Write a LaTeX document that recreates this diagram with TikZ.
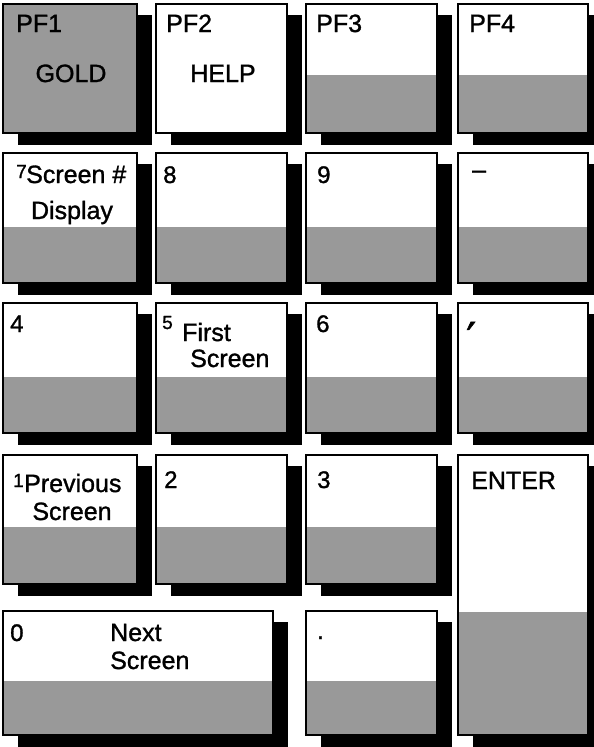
\documentclass[tikz,border=0pt]{standalone}
\usepackage{fontspec}
\setmainfont{Liberation Sans}[FakeBold=1.2]
\newfontfamily\symfont{DejaVu Sans}[FakeBold=1.2]
\newcommand\kbkey[5]{%
  \fill[keyshadow] (#1+15,#2+11) rectangle (#3+15,#4+12);
  \fill[keyface] (#1,#2) rectangle (#3,#4);
  \fill[keylow] (#1,#5) rectangle (#3,#4);
  \draw[keyrim] (#1,#2) rectangle (#3,#4);}
\begin{document}
\begin{tikzpicture}[x=1pt,y=-1pt,
  lbl/.style={inner sep=0pt,anchor=base west,font=\fontsize{25}{28}\selectfont},
  dig/.style={inner sep=0pt,anchor=base west,font=\fontsize{24}{26}\selectfont},
  sml/.style={inner sep=0pt,anchor=base west,font=\fontsize{19}{21}\selectfont},
  ctr/.style={inner sep=0pt,anchor=base,font=\fontsize{25}{28}\selectfont},
  keyshadow/.style={fill=black},
  keyface/.style={fill=white},
  keylow/.style={fill=black!40},
  keyrim/.style={draw=black,line width=2pt}]
\useasboundingbox (0,0) rectangle (594,747);
\fill[white] (0,0) rectangle (594,747);
\clip (0,0) rectangle (594,747);
% row 1
\kbkey{3}{4}{137}{133}{4}
\kbkey{156}{4}{287}{133}{133}
\kbkey{306}{4}{437}{133}{75}
\kbkey{458}{4}{588}{133}{75}
% row 2
\kbkey{3}{153}{137}{283}{227}
\kbkey{156}{153}{287}{283}{227}
\kbkey{306}{153}{437}{283}{227}
\kbkey{458}{153}{588}{283}{227}
% row 3
\kbkey{3}{303}{137}{433}{377}
\kbkey{156}{303}{287}{433}{377}
\kbkey{306}{303}{437}{433}{377}
\kbkey{458}{303}{588}{433}{377}
% row 4
\kbkey{3}{455}{137}{584}{527}
\kbkey{156}{455}{287}{584}{527}
\kbkey{306}{455}{437}{584}{527}
% ENTER
\kbkey{458}{455}{588}{735}{612}
% row 5
\kbkey{3}{611}{273}{735}{681}
\kbkey{306}{611}{437}{735}{681}
% labels
\node[lbl] (pf1) at (16,32) {PF1};
\node[ctr] (gold) at (71,82) {GOLD};
\node[lbl] (pf2) at (166,32) {PF2};
\node[ctr] (help) at (223,82) {HELP};
\node[lbl] (pf3) at (316,32) {PF3};
\node[lbl] (pf4) at (469,32) {PF4};
\node[sml] (k7) at (16,178) {7};
\node[lbl] (scr7) at (26,183) {Screen \#};
\node[ctr] (disp) at (72,219) {Display};
\node[dig] (k8) at (163,183) {8};
\node[dig] (k9) at (317,183) {9};
\node[lbl] (kminus) at (472,178) {–};
\node[dig] (k4) at (10,332) {4};
\node[sml] (k5) at (162,329) {5};
\node[lbl] (first) at (182,341) {First};
\node[lbl] (scr5) at (190,367) {Screen};
\node[dig] (k6) at (316,332) {6};
\node[lbl,font=\symfont\fontsize{44}{48}\selectfont] (kcomma) at (466,354) {′};
\node[sml] (k1) at (13,487) {1};
\node[lbl] (prev) at (24,492) {Previous};
\node[ctr] (scr1) at (72,520) {Screen};
\node[dig] (k2) at (164,488) {2};
\node[dig] (k3) at (317,488) {3};
\node[lbl] (enter) at (471,489) {ENTER};
\node[dig] (k0) at (10,641) {0};
\node[lbl] (next) at (110,641) {Next};
\node[lbl] (scr0) at (110,669) {Screen};
\node[dig] (kdot) at (317,639) {.};
\end{tikzpicture}
\end{document}
